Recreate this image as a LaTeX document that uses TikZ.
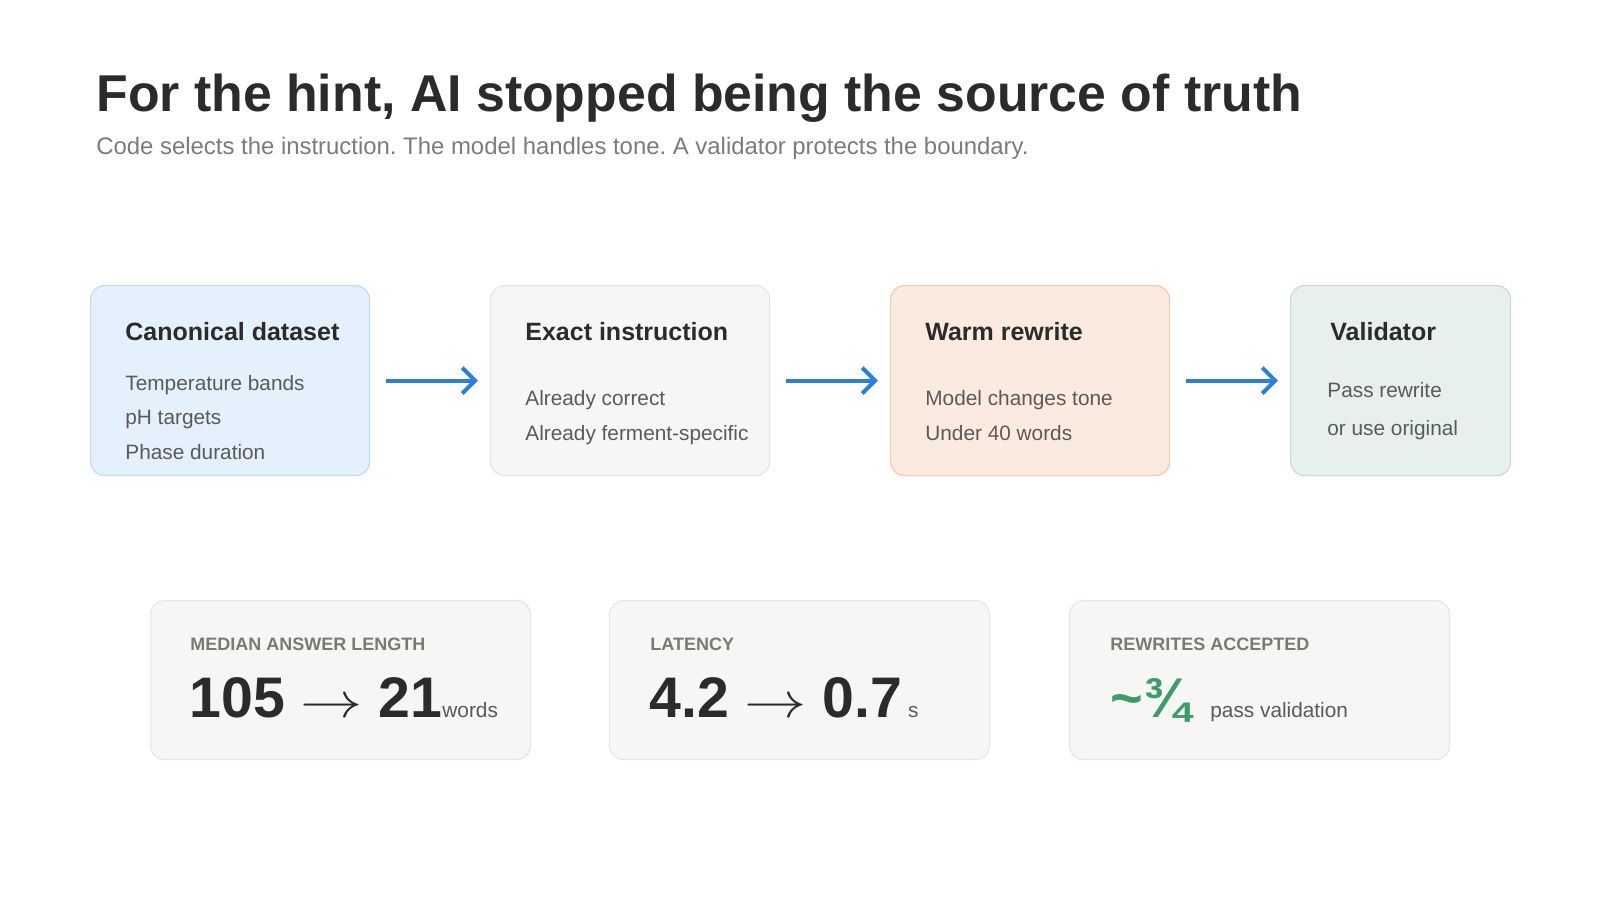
\documentclass[tikz,border=0pt]{standalone}
\usepackage{fontspec}
\setmainfont{Liberation Sans}
\usetikzlibrary{arrows.meta,positioning}
\frenchspacing

\definecolor{ink}{HTML}{2B2B2B}
\definecolor{subgray}{HTML}{7B7B77}
\definecolor{itemgray}{HTML}{5A5A5A}
\definecolor{labelgray}{HTML}{7A7A74}
\definecolor{flowblue}{HTML}{2B80DC}
\definecolor{okgreen}{HTML}{3E9B6C}
\definecolor{cardfill}{HTML}{F7F6F4}
\definecolor{cardline}{HTML}{E8E6E2}

\begin{document}
\begin{tikzpicture}[x=0.5pt,y=-0.5pt,
    stage/.style={draw, rounded corners=7pt, line width=0.6pt, minimum width=#1, minimum height=95pt, anchor=north west, inner sep=0pt},
    stage/.default={139.5pt}]
    \tikzset{card/.style={draw=cardline, fill=cardfill, rounded corners=7pt, line width=0.6pt, minimum width=190pt, minimum height=79.5pt, anchor=north west, inner sep=0pt}}
    \tikzset{head/.style={anchor=base west, inner sep=0pt, text=ink, font=\fontsize{12.5}{15}\selectfont\bfseries},
    item/.style={anchor=base west, inner sep=0pt, text=itemgray, font=\fontsize{10.4}{12}\selectfont},
    flow/.style={draw=flowblue, line width=2pt, -{Straight Barb[length=6.5pt,width=13pt]}, shorten <=8pt, shorten >=6pt}}
    \tikzset{label/.style={anchor=base west, inner sep=0pt, text=labelgray, font=\fontsize{9}{11}\selectfont\bfseries},
    big/.style={anchor=base west, inner sep=0pt, text=ink, font=\fontsize{28.6}{33}\selectfont\bfseries}}
    \def\goes{\scalebox{1.25}[1]{$\rightarrow$}}
    \def\unit{\fontsize{10.4}{12}\selectfont\mdseries\color{itemgray}}
    \useasboundingbox (0,0) rectangle (1600,900);

    % title
    \node[anchor=base west, inner sep=0pt, text=ink, font=\fontsize{25.9}{30}\selectfont\bfseries] (title) at (96,111) {For the hint, AI stopped being the source of truth};
    \node[anchor=base west, inner sep=0pt, text=subgray, font=\fontsize{11.95}{14}\selectfont] (sub) at (96,154) {Code selects the instruction. The model handles tone. A validator protects the boundary.};

    % pipeline
    \node[stage, fill={rgb,255:red,228;green,240;blue,251}, draw={rgb,255:red,190;green,220;blue,244}] (b1) at (90,285) {};
    \node[stage, fill=cardfill, draw=cardline] (b2) at (490,285) {};
    \node[stage, fill={rgb,255:red,251;green,234;blue,223}, draw={rgb,255:red,240;green,203;blue,174}] (b3) at (890,285) {};
    \node[stage=110pt, fill={rgb,255:red,231;green,240;blue,234}, draw={rgb,255:red,197;green,221;blue,207}] (b4) at (1290,285) {};

    \node[head] (h1) at (125,340) {Canonical dataset};
    \node[item] (i1a) at (125,390) {Temperature bands};
    \node[item] (i1b) at (125,424) {pH targets};
    \node[item] (i1c) at (125,459) {Phase duration};

    \node[head] (h2) at (525,340) {Exact instruction};
    \node[item] (i2a) at (525,405) {Already correct};
    \node[item] (i2b) at (525,440) {Already ferment-specific};

    \node[head] (h3) at (925,340) {Warm rewrite};
    \node[item] (i3a) at (925,405) {Model changes tone};
    \node[item] (i3b) at (925,440) {Under 40 words};

    \node[head] (h4) at (1330,340) {Validator};
    \node[item] (i4a) at (1327,397) {Pass rewrite};
    \node[item] (i4b) at (1327,435) {or use original};

    \foreach \a/\b in {b1/b2, b2/b3, b3/b4}
        \draw[flow] (\a.east) -- (\b.west);

    % numbers
    \node[card] (c1) at (150,600) {};
    \node[card] (c2) at (609,600) {};
    \node[card] (c3) at (1069,600) {};

    \node[label] (l1) at (190,650) {MEDIAN ANSWER LENGTH};
    \node[big] (n1) at (189,717) {105 \goes{} 21\unit words};

    \node[label] (l2) at (650,650) {LATENCY};
    \node[big] (n2) at (649,717) {4.2 \goes{} 0.7\unit{} s};

    \node[label] (l3) at (1110,650) {REWRITES ACCEPTED};
    \node[big, text=okgreen, font=\fontsize{28}{32}\selectfont\bfseries] (n3) at (1110,717) {\char"7E ¾};
    \node[item] (p3) at (1210,717) {pass validation};
\end{tikzpicture}
\end{document}
